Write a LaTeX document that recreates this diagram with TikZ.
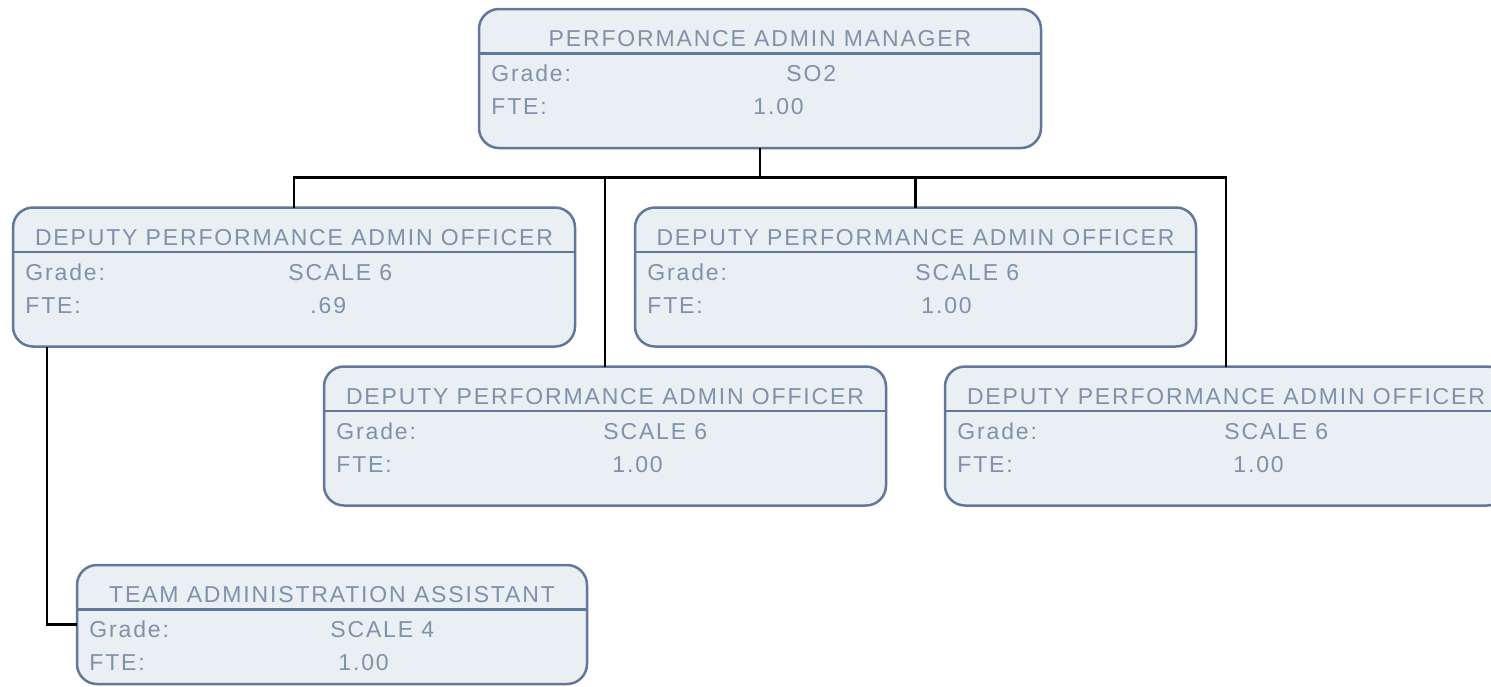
\documentclass[tikz,border=0pt]{standalone}
\usepackage{fontspec}
\setmainfont{Liberation Sans}[LetterSpace=8]
\definecolor{boxfill}{RGB}{233,239,242}
\definecolor{boxline}{RGB}{98,120,154}
\definecolor{boxtext}{RGB}{128,145,170}
\tikzset{
  orgnode/.style={draw=boxline, fill=boxfill, line width=1.25pt, rounded corners=10pt,
    rectangle, inner sep=0pt, outer sep=0pt, anchor=north west},
  sepline/.style={draw=boxline, line width=1.25pt},
  txt/.style={inner sep=0pt, text=boxtext, font=\fontsize{11.5pt}{13pt}\selectfont},
  lbl/.style={txt, anchor=base west},
  ttl/.style={txt, anchor=base},
  conn/.style={draw=black, line width=1.2pt}
}
% name, x, y, width, height, title
\newcommand\orgbox[6]{%
  \node[orgnode, minimum width={#4*0.5pt}, minimum height={#5*0.5pt}] (#1) at (#2,#3) {};
  \draw[sepline] ({#2},{#3+44.5}) -- ({#2+#4},{#3+44.5});
  \node[ttl] (#1-t) at ({#2+#4/2},{#3+37.5}) {#6};
  \node[lbl] (#1-g) at ({#2+12},{#3+72.5}) {Grade:};
  \node[lbl] (#1-f) at ({#2+12},{#3+105.5}) {FTE:};
}
\begin{document}
\begin{tikzpicture}[x=0.5pt,y=-0.5pt]
\useasboundingbox (0,0) rectangle (1491,686);
\clip (0,0) rectangle (1491,686);
\orgbox{b1}{479}{9}{562}{139}{PERFORMANCE ADMIN MANAGER}
\orgbox{b2}{13}{207.5}{562}{139}{DEPUTY PERFORMANCE ADMIN OFFICER}
\orgbox{b3}{635}{207.5}{561}{139}{DEPUTY PERFORMANCE ADMIN OFFICER}
\orgbox{b4}{324}{366.5}{562}{139}{DEPUTY PERFORMANCE ADMIN OFFICER}
\orgbox{b5}{945}{366.5}{562}{139}{DEPUTY PERFORMANCE ADMIN OFFICER}
\orgbox{b6}{77}{565}{510}{119}{TEAM ADMINISTRATION ASSISTANT}
% values
\node[lbl] (b1-gv) at (786,81.5) {SO2};
\node[lbl] (b1-fv) at (753,114.5) {1.00};
\node[lbl] (b2-gv) at (288,280) {SCALE 6};
\node[lbl] (b2-fv) at (310,313) {.69};
\node[lbl] (b3-gv) at (915,280) {SCALE 6};
\node[lbl] (b3-fv) at (921,313) {1.00};
\node[lbl] (b4-gv) at (603,439) {SCALE 6};
\node[lbl] (b4-fv) at (612,472) {1.00};
\node[lbl] (b5-gv) at (1224,439) {SCALE 6};
\node[lbl] (b5-fv) at (1233,472) {1.00};
\node[lbl] (b6-gv) at (330,637.5) {SCALE 4};
\node[lbl] (b6-fv) at (338,670.5) {1.00};
% connectors
\coordinate (bus) at (760,177.5);
\draw[conn] (b1.south) -- (b1.south |- bus);
\draw[conn] (b2.north) |- (b5.north |- bus) -- (b5.north);
\draw[conn] (b4.north) -- (b4.north |- bus);
\draw[conn] (b3.north) -- (b3.north |- bus);
\draw[conn] ([xshift=17pt]b2.south west) |- (b6.west);
\end{tikzpicture}
\end{document}
